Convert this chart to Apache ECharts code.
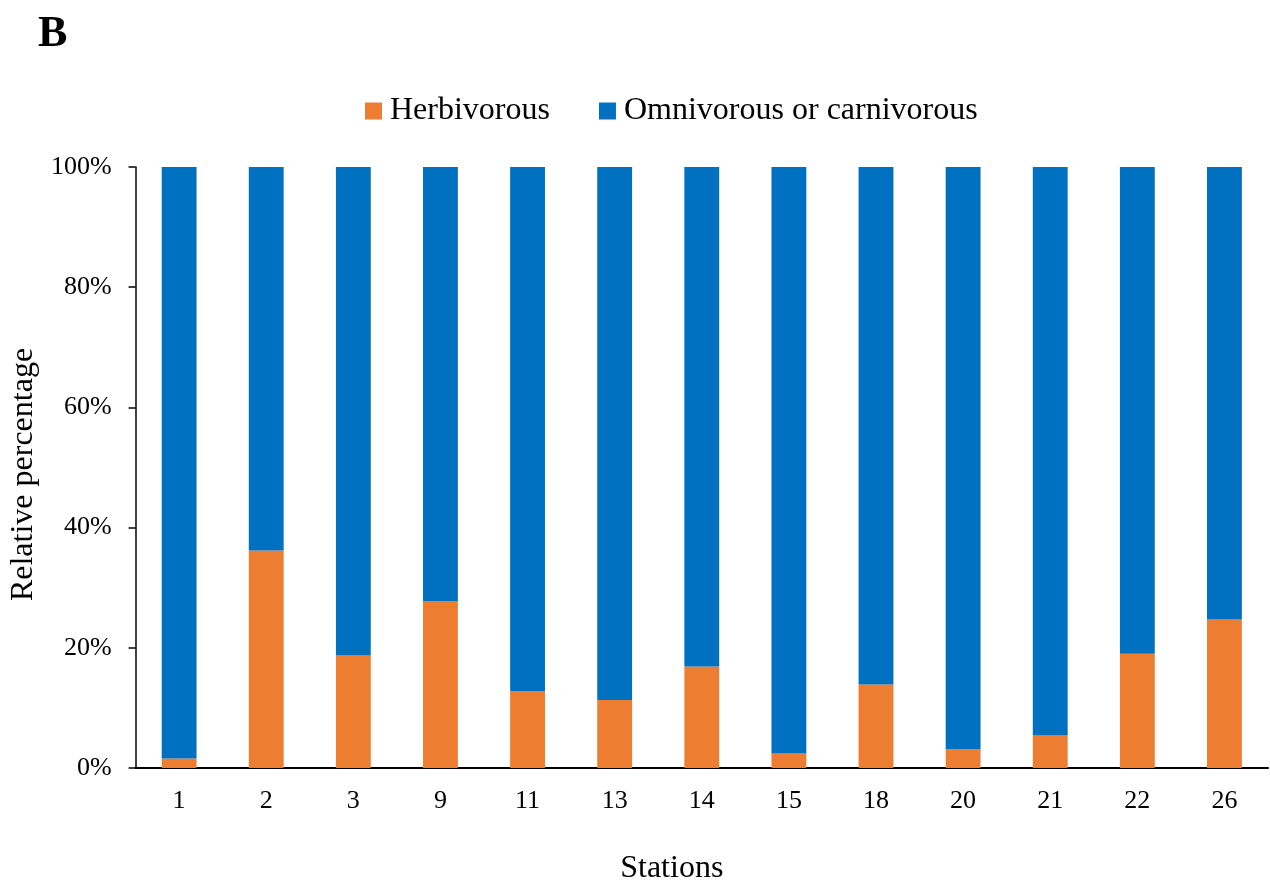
<!DOCTYPE html>
<html>
<head>
<meta charset="utf-8">
<title>Feeding groups by station</title>
<script src="https://cdn.jsdelivr.net/npm/echarts@6/dist/echarts.min.js"></script>
<style>
  html, body { margin: 0; padding: 0; background: #ffffff; }
  #chart { width: 1270px; height: 890px; }
</style>
</head>
<body>
<div id="chart"></div>
<script>
// Sampling stations
const stations = ['1', '2', '3', '9', '11', '13', '14', '15', '18', '20', '21', '22', '26'];
// Relative percentage of herbivorous taxa per station
const herbivorous = [1.6, 36.2, 18.7, 27.8, 12.8, 11.3, 16.9, 2.4, 13.9, 3.1, 5.4, 19.0, 24.7];
// Relative percentage of omnivorous or carnivorous taxa per station
const omnivorous = [98.4, 63.8, 81.3, 72.2, 87.2, 88.7, 83.1, 97.6, 86.1, 96.9, 94.6, 81.0, 75.3];
// Y axis ticks
const yTicks = [0, 20, 40, 60, 80, 100];

const font = '"Liberation Serif", "Times New Roman", serif';
const chart = echarts.init(document.getElementById('chart'), null, { renderer: 'canvas' });

chart.setOption({
  animation: false,
  backgroundColor: '#ffffff',
  title: {
    text: 'B',
    left: 33,
    top: 8,
    textStyle: { fontFamily: font, fontWeight: 'bold', fontSize: 44, color: '#000' }
  },
  legend: {
    top: 95,
    left: 365,
    padding: 0,
    itemWidth: 17,
    itemHeight: 17,
    itemGap: 49,
    icon: 'rect',
    textStyle: { fontFamily: font, fontSize: 32, color: '#000', padding: [0, 0, 0, 3] },
    data: ['Herbivorous', 'Omnivorous or carnivorous']
  },
  grid: { left: 132, right: 2, top: 167, bottom: 116, containLabel: false },
  xAxis: {
    type: 'category',
    data: stations,
    name: 'Stations',
    nameLocation: 'middle',
    nameGap: 85,
    nameTextStyle: { fontFamily: font, fontSize: 32, color: '#000', padding: [0, 60, 0, 0] },
    axisLine: { lineStyle: { color: '#000', width: 2 } },
    axisTick: { show: false },
    axisLabel: { fontFamily: font, fontSize: 26, color: '#000', margin: 20 }
  },
  yAxis: {
    type: 'value',
    min: yTicks[0],
    max: yTicks[yTicks.length - 1],
    interval: yTicks[1] - yTicks[0],
    name: 'Relative percentage',
    nameLocation: 'middle',
    nameGap: 86,
    nameTextStyle: { fontFamily: font, fontSize: 32, color: '#000', padding: [0, 14, 0, 0] },
    axisLine: { show: true, lineStyle: { color: '#000', width: 1.5 } },
    axisTick: { show: true, length: 7, lineStyle: { color: '#000', width: 1.5 } },
    splitLine: { show: false },
    axisLabel: { fontFamily: font, fontSize: 26, color: '#000', margin: 24, formatter: '{value}%' }
  },
  series: [
    {
      name: 'Herbivorous',
      type: 'bar',
      stack: 'total',
      barWidth: '40%',
      itemStyle: { color: '#ED7D31' },
      data: herbivorous
    },
    {
      name: 'Omnivorous or carnivorous',
      type: 'bar',
      stack: 'total',
      barWidth: '40%',
      itemStyle: { color: '#0070C0' },
      data: omnivorous
    }
  ]
});
</script>
</body>
</html>
